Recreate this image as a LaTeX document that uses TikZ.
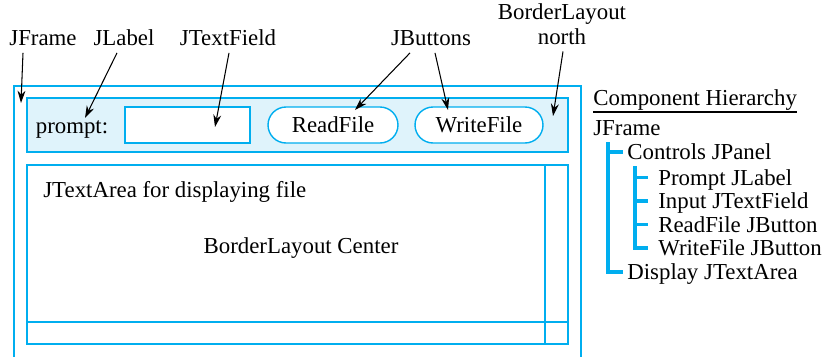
\documentclass[tikz,border=0pt]{standalone}
\usepackage{fontspec}
\setmainfont{Liberation Serif}
\usetikzlibrary{arrows.meta}
\definecolor{frameblue}{RGB}{0,174,239}
\definecolor{panelblue}{RGB}{223,243,251}

\begin{document}
\begin{tikzpicture}[x=0.02cm,y=-0.02cm,font=\fontsize{13}{14.2}\selectfont,
  box/.style={draw=frameblue,line width=0.8pt},
  btn/.style={box,fill=white,minimum height=0.72cm,rounded corners=0.36cm},
  lbl/.style={inner sep=0pt,text height=8.6pt,text depth=0pt},
  tnode/.style={lbl,anchor=west},
  arr/.style={-{Stealth[length=7pt,width=4.5pt]},line width=0.6pt},
  tree/.style={draw=frameblue,line width=1.9pt}]
\useasboundingbox (0,0) rectangle (838,356);
% window
\draw[box] (14,360)--(14,86)--(581,86)--(581,360);
\draw[box,fill=panelblue] (27,98) rectangle (568,152);
\node[lbl] (prm) at (72,126) {prompt:};
\node[box,fill=white,minimum width=2.5cm,minimum height=0.72cm] (tfld) at (187.5,125) {};
\node[btn,minimum width=2.6cm] (read) at (333,125) {ReadFile};
\node[btn,minimum width=2.56cm] (write) at (479,125) {WriteFile};
\draw[box] (27,165) rectangle (568,344);
\draw[box] (545,165)--(545,344) (27,322)--(568,322);
\node[lbl,anchor=west] (area) at (43,190) {JTextArea for displaying file};
\node[lbl] (cen) at (301,246) {BorderLayout Center};
% labels and arrows
\node[lbl] (jfrm) at (43,38) {JFrame};
\node[lbl] (jlab) at (124,38) {JLabel};
\node[lbl] (jtf) at (228,38) {JTextField};
\node[lbl] (jbtn) at (431,38) {JButtons};
\node[inner sep=0pt,align=center,anchor=south] (bln) at (562,45.5) {BorderLayout\\north};
\coordinate (pfr) at (21,103); \coordinate (plab) at (85,118); \coordinate (ptf) at (215,127);
\coordinate (prd) at (355,110); \coordinate (pwr) at (448,110); \coordinate (pnor) at (553,116);
\draw[arr] ([shift={(-20,7)}]jfrm.south) -- (pfr);
\draw[arr] ([shift={(-7,7)}]jlab.south) -- (plab);
\draw[arr] ([shift={(1,7)}]jtf.south) -- (ptf);
\draw[arr] ([shift={(-21,7)}]jbtn.south) -- (prd);
\draw[arr] ([shift={(4,7)}]jbtn.south) -- (pwr);
\draw[arr] ([shift={(1,6)}]bln.south) -- (pnor);
% hierarchy
\node[inner sep=0pt,anchor=base west] (hier) at (593,105) {Component Hierarchy};
\draw[line width=0.9pt] ([yshift=-1pt]hier.south west) -- ([yshift=-1pt]hier.south east);
\node[tnode] (jfr) at (593,128) {JFrame};
\node[tnode] (ctl) at (627,152) {Controls JPanel};
\node[tnode] (disp) at (627,272) {Display JTextArea};
\foreach \t [count=\i] in {Prompt JLabel,Input JTextField,ReadFile JButton,WriteFile JButton}
  \node[tnode] (c\i) at (658,154+23.5*\i) {\t};
\draw[tree] (608,142) |- ([xshift=-0.08cm]disp.west) (608,0 |- ctl.west) -- ([xshift=-0.08cm]ctl.west);
\draw[tree] (635,166) |- ([xshift=-0.2cm]c4.west);
\foreach \i in {1,2,3}
  \draw[tree] (635,0 |- c\i.west) -- ([xshift=-0.2cm]c\i.west);
\end{tikzpicture}
\end{document}
